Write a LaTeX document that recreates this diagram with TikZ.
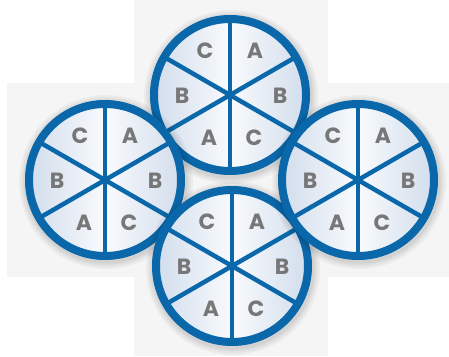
\documentclass[tikz,border=0pt]{standalone}
\usepackage{fontspec}
\newfontfamily\labfont{Poppins}
\definecolor{ringblue}{HTML}{0A67A9}
\definecolor{edgeblue}{HTML}{D2DDEC}
\definecolor{centerwhite}{HTML}{F8FAFD}
\definecolor{labgray}{HTML}{777777}
\definecolor{bggray}{HTML}{F5F5F5}
\tikzset{
  ring/.style={draw=ringblue, line width=8pt},
  spoke/.style={draw=ringblue, line width=4.5pt},
  lab/.style={text=labgray, font=\labfont\bfseries\fontsize{22}{22}\selectfont, inner sep=0pt},
  bgstrip/.style={fill=bggray},
  shadowdisc/.style={fill=black, fill opacity=0.035},
  wheel/.pic={
    \foreach \r in {87,85,83,81.5} {
      \fill[shadowdisc] (1,2) circle[radius=\r];
    }
    \fill[ringblue] (0,0) circle[radius=79.5];
    \begin{scope}
      \clip (0,0) circle[radius=76];
      \shade[left color=edgeblue, right color=centerwhite] (-77,-77) rectangle (0,77);
      \shade[left color=centerwhite, right color=edgeblue] (0,-77) rectangle (77,77);
    \end{scope}
    \draw[spoke] (0,-76) -- (0,76);
    \draw[spoke] (-65.8,-38) -- (65.8,38);
    \draw[spoke] (-65.8,38) -- (65.8,-38);
    \draw[ring] (0,0) circle[radius=76];
    \node[lab] (-ca) at (-25,-44) {C};
    \node[lab] (-aa) at (25,-44) {A};
    \node[lab] (-bl) at (-48,1) {B};
    \node[lab] (-br) at (50,1) {B};
    \node[lab] (-ab) at (-21,43) {A};
    \node[lab] (-cb) at (24,43) {C};
  }
}
\begin{document}
\begin{tikzpicture}[x=1pt, y=-1pt]
  \useasboundingbox (0,0) rectangle (449,356);
  \fill[bgstrip] (134,0) rectangle (328,356);
  \fill[bgstrip] (7,83) rectangle (449,277);
  \pic (top) at (230,95) {wheel};
  \pic (left) at (105,180) {wheel};
  \pic (bottom) at (232,266) {wheel};
  \pic (right) at (358,180) {wheel};
\end{tikzpicture}
\end{document}
